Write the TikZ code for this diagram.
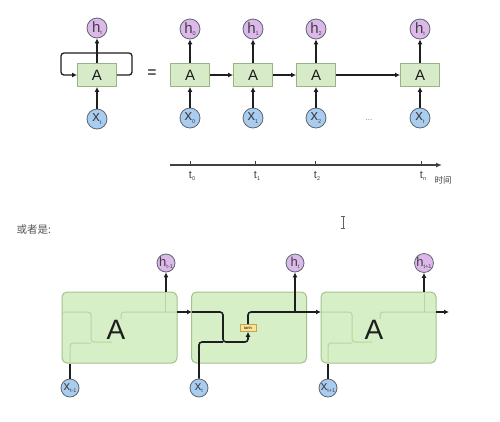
\documentclass[tikz,border=0pt]{standalone}
\usepackage{fontspec}
\setmainfont{Liberation Sans}
\newfontfamily\cjk{Noto Sans CJK SC}
\usetikzlibrary{arrows.meta}
\definecolor{tfill}{HTML}{D8EBC9}
\definecolor{tborder}{HTML}{97B584}
\definecolor{bfill}{HTML}{D7EFC6}
\definecolor{bborder}{HTML}{A3C28C}
\definecolor{faint}{HTML}{B7D4A2}
\definecolor{hpurple}{HTML}{DDB8EA}
\definecolor{xblue}{HTML}{A9CDF0}
\definecolor{cborder}{HTML}{5E6670}
\definecolor{dark}{HTML}{1E1E1E}
\definecolor{tanhfill}{HTML}{F7E49A}
\definecolor{tanhborder}{HTML}{C9A445}
\newcommand\lb[3]{\fontsize{#3}{#3}\selectfont #1\raisebox{-0.3ex}{\fontsize{5.5}{5.5}\selectfont #2}}
\begin{document}
\begin{tikzpicture}[x=1pt,y=-1pt,
  tbox/.style={rectangle,draw=tborder,fill=tfill,line width=0.9pt,minimum width=39pt,minimum height=23pt,inner sep=0pt,font=\fontsize{15}{15}\selectfont,text=dark},
  bbox/.style={rectangle,rounded corners=5pt,draw=bborder,fill=bfill,line width=1pt,minimum width=115pt,minimum height=71pt,inner sep=0pt},
  hc/.style={circle,draw=cborder,fill=hpurple,line width=0.8pt,minimum size=#1,inner sep=0pt,text=dark!85},
  hc/.default=20pt,
  xc/.style={circle,draw=cborder,fill=xblue,line width=0.8pt,minimum size=#1,inner sep=0pt,text=dark!85},
  xc/.default=20pt,
  arr/.style={-{Latex[length=5pt,width=5pt]},line width=1.3pt,draw=dark},
  dk/.style={line width=1.6pt,draw=dark,rounded corners=3pt},
  fl/.style={line width=1pt,draw=faint,rounded corners=3pt},
  tanhbox/.style={rectangle,draw=tanhborder,fill=tanhfill,line width=0.6pt,minimum width=16pt,minimum height=7pt,inner sep=0pt,font=\fontsize{4}{4}\selectfont},
  tlbl/.style={font=\fontsize{10}{10}\selectfont,text=dark!85},
]
\fill[white] (0,0) rectangle (500,421);
\useasboundingbox (0,0) rectangle (500,421);

% ---------- folded RNN ----------
\node[tbox] (A0) at (97,75) {A};
\node[hc] (H0) at (97,28) {\lb{h}{t}{15}};
\node[xc] (X0) at (97,119) {\lb{x}{t}{15}};
\draw[arr] (X0) -- (A0);
\draw[arr] (A0) -- (H0);
\coordinate (loopR) at (132,53);
\coordinate (loopL) at (61,75);
\draw[arr,rounded corners=3pt] (A0.east) -| (loopR) -| (loopL) -- (A0.west);

\node[font=\fontsize{15}{15}\selectfont\bfseries,text=dark!80] (eq) at (152,74) {=};

% ---------- unrolled RNN ----------
\foreach \i/\x/\s in {0/190/0,1/253/1,2/316/2,3/420/t}{
  \node[tbox] (U\i) at (\x,75) {A};
  \node[hc] (UH\i) at (\x,29) {\lb{h}{\s}{15}};
  \node[xc] (UX\i) at (\x,118) {\lb{x}{\s}{15}};
  \draw[arr] (UX\i) -- (U\i);
  \draw[arr] (U\i) -- (UH\i);
}
\draw[arr] (U0) -- (U1);
\draw[arr] (U1) -- (U2);
\draw[arr] (U2) -- (U3);
\node[font=\fontsize{8}{8}\selectfont,text=dark!60] (dots) at (369,120) {...};

% ---------- time axis ----------
\coordinate (ax0) at (170,165);
\coordinate (ax1) at (442,165);
\draw[-{Latex[length=6pt,width=5pt]},line width=1.2pt,draw=dark!85] (ax0) -- (ax1);
\foreach \x/\s in {190/0,255/1,315/2,421/n}{
  \draw[line width=1pt,draw=dark!85] (\x,160.5) -- (\x,165);
  \node[tlbl] (T\s) at (\x+2,176) {\lb{t}{\s}{11}};
}
\node[font=\cjk\fontsize{8.5}{8.5}\selectfont,text=dark!85] (shijian) at (443,180) {时间};

% text cursor
\draw[line width=0.6pt,draw=dark!70] (343,216) -- (343,228) (341,216) -- (345,216) (341,228) -- (345,228);

% ---------- label ----------
\node[anchor=west,font=\cjk\fontsize{10.5}{10.5}\selectfont,text=dark!75] (huozhe) at (13,230) {或者是:};

% ---------- bottom chain ----------
\node[bbox] (B1) at (119.5,327.5) {};
\node[bbox] (B2) at (249,327.5) {};
\node[bbox] (B3) at (378.5,327.5) {};

\node[hc=18pt] (BH1) at (166,263) {\lb{h}{t-1}{13}};
\node[hc=18pt] (BH2) at (295,263) {\lb{h}{t}{13}};
\node[hc=18pt] (BH3) at (424,263) {\lb{h}{t+1}{13}};
\node[xc=18pt] (BX1) at (70,388) {\lb{x}{t-1}{13}};
\node[xc=18pt] (BX2) at (199,388) {\lb{x}{t}{13}};
\node[xc=18pt] (BX3) at (328,388) {\lb{x}{t+1}{13}};

% faint internal lines of box 1
\draw[fl] (62,312) -| (91,342) -- (112,342);
\draw[fl] (70,363) |- (91,343);
\draw[fl] (121,319) |- (177,312);
\draw[fl] (165,312) -- (165,292);
% faint internal lines of box 3
\draw[fl] (321,312) -| (352,342) -- (372,342);
\draw[fl] (328,363) |- (352,343);
\draw[fl] (380,319) |- (436,312);
\draw[fl] (424,312) -- (424,292);

\node[font=\fontsize{28}{28}\selectfont,text=dark] (A1) at (116,330) {A};
\node[font=\fontsize{28}{28}\selectfont,text=dark] (A3) at (374,330) {A};

% box 1 connectors
\draw[dk] (BX1) -- (BX1 |- B1.south);
\draw[arr,line width=1.6pt] (BH1 |- B1.north) -- (BH1);
\coordinate (o1) at (177,312);
\coordinate (i2) at (192,312);
\draw[arr,line width=1.6pt] (o1) -- (i2);

% box 2 internal
\node[tanhbox] (tanh) at (248,328) {tanh};
\coordinate (m2) at (223,342);
\draw[dk,-{Latex[length=5pt,width=5pt]}] (i2) -| (m2) -| (tanh.south);
\draw[dk] (BX2) |- (m2);
\coordinate (i3) at (321,312);
\draw[dk,-{Latex[length=5pt,width=5pt]}] (tanh.north) |- (i3);
\draw[arr,line width=1.6pt] (BH2 |- i3) -- (BH2);

% box 3 connectors
\draw[dk] (BX3) -- (BX3 |- B3.south);
\draw[arr,line width=1.6pt] (BH3 |- B3.north) -- (BH3);
\coordinate (o3) at (436,312);
\coordinate (e3) at (449,312);
\draw[arr,line width=1.6pt] (o3) -- (e3);
\end{tikzpicture}
\end{document}
